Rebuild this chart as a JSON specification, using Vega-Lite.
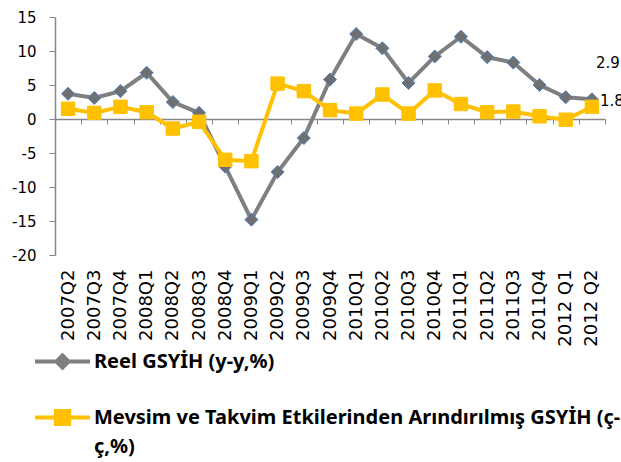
{
  "$schema": "https://vega.github.io/schema/vega-lite/v6.json",
  "width": 550,
  "height": 238,
  "autosize": "none",
  "padding": {"left": 55, "top": 17, "right": 16, "bottom": 207},
  "config": {"view": {"stroke": null}, "font": "DejaVu Sans", "style": {"guide-label": {"lineHeight": 29}}},
  "data": {"values": [
    {"q": "2007Q2", "series": "Reel GSYİH (y-y,%)", "value": 3.7},
    {"q": "2007Q3", "series": "Reel GSYİH (y-y,%)", "value": 3.1},
    {"q": "2007Q4", "series": "Reel GSYİH (y-y,%)", "value": 4.1},
    {"q": "2008Q1", "series": "Reel GSYİH (y-y,%)", "value": 6.8},
    {"q": "2008Q2", "series": "Reel GSYİH (y-y,%)", "value": 2.5},
    {"q": "2008Q3", "series": "Reel GSYİH (y-y,%)", "value": 0.9},
    {"q": "2008Q4", "series": "Reel GSYİH (y-y,%)", "value": -7.0},
    {"q": "2009Q1", "series": "Reel GSYİH (y-y,%)", "value": -14.8},
    {"q": "2009Q2", "series": "Reel GSYİH (y-y,%)", "value": -7.8},
    {"q": "2009Q3", "series": "Reel GSYİH (y-y,%)", "value": -2.8},
    {"q": "2009Q4", "series": "Reel GSYİH (y-y,%)", "value": 5.8},
    {"q": "2010Q1", "series": "Reel GSYİH (y-y,%)", "value": 12.5},
    {"q": "2010Q2", "series": "Reel GSYİH (y-y,%)", "value": 10.4},
    {"q": "2010Q3", "series": "Reel GSYİH (y-y,%)", "value": 5.3},
    {"q": "2010Q4", "series": "Reel GSYİH (y-y,%)", "value": 9.2},
    {"q": "2011Q1", "series": "Reel GSYİH (y-y,%)", "value": 12.1},
    {"q": "2011Q2", "series": "Reel GSYİH (y-y,%)", "value": 9.1},
    {"q": "2011Q3", "series": "Reel GSYİH (y-y,%)", "value": 8.3},
    {"q": "2011Q4", "series": "Reel GSYİH (y-y,%)", "value": 5.0},
    {"q": "2012 Q1", "series": "Reel GSYİH (y-y,%)", "value": 3.2},
    {"q": "2012 Q2", "series": "Reel GSYİH (y-y,%)", "value": 2.9},
    {"q": "2007Q2", "series": "Mevsim ve Takvim Etkilerinden Arındırılmış GSYİH (ç-ç,%)", "value": 1.5},
    {"q": "2007Q3", "series": "Mevsim ve Takvim Etkilerinden Arındırılmış GSYİH (ç-ç,%)", "value": 0.9},
    {"q": "2007Q4", "series": "Mevsim ve Takvim Etkilerinden Arındırılmış GSYİH (ç-ç,%)", "value": 1.8},
    {"q": "2008Q1", "series": "Mevsim ve Takvim Etkilerinden Arındırılmış GSYİH (ç-ç,%)", "value": 1.0},
    {"q": "2008Q2", "series": "Mevsim ve Takvim Etkilerinden Arındırılmış GSYİH (ç-ç,%)", "value": -1.4},
    {"q": "2008Q3", "series": "Mevsim ve Takvim Etkilerinden Arındırılmış GSYİH (ç-ç,%)", "value": -0.4},
    {"q": "2008Q4", "series": "Mevsim ve Takvim Etkilerinden Arındırılmış GSYİH (ç-ç,%)", "value": -6.0},
    {"q": "2009Q1", "series": "Mevsim ve Takvim Etkilerinden Arındırılmış GSYİH (ç-ç,%)", "value": -6.2},
    {"q": "2009Q2", "series": "Mevsim ve Takvim Etkilerinden Arındırılmış GSYİH (ç-ç,%)", "value": 5.2},
    {"q": "2009Q3", "series": "Mevsim ve Takvim Etkilerinden Arındırılmış GSYİH (ç-ç,%)", "value": 4.1},
    {"q": "2009Q4", "series": "Mevsim ve Takvim Etkilerinden Arındırılmış GSYİH (ç-ç,%)", "value": 1.3},
    {"q": "2010Q1", "series": "Mevsim ve Takvim Etkilerinden Arındırılmış GSYİH (ç-ç,%)", "value": 0.8},
    {"q": "2010Q2", "series": "Mevsim ve Takvim Etkilerinden Arındırılmış GSYİH (ç-ç,%)", "value": 3.6},
    {"q": "2010Q3", "series": "Mevsim ve Takvim Etkilerinden Arındırılmış GSYİH (ç-ç,%)", "value": 0.8},
    {"q": "2010Q4", "series": "Mevsim ve Takvim Etkilerinden Arındırılmış GSYİH (ç-ç,%)", "value": 4.2},
    {"q": "2011Q1", "series": "Mevsim ve Takvim Etkilerinden Arındırılmış GSYİH (ç-ç,%)", "value": 2.2},
    {"q": "2011Q2", "series": "Mevsim ve Takvim Etkilerinden Arındırılmış GSYİH (ç-ç,%)", "value": 1.0},
    {"q": "2011Q3", "series": "Mevsim ve Takvim Etkilerinden Arındırılmış GSYİH (ç-ç,%)", "value": 1.1},
    {"q": "2011Q4", "series": "Mevsim ve Takvim Etkilerinden Arındırılmış GSYİH (ç-ç,%)", "value": 0.4},
    {"q": "2012 Q1", "series": "Mevsim ve Takvim Etkilerinden Arındırılmış GSYİH (ç-ç,%)", "value": -0.1},
    {"q": "2012 Q2", "series": "Mevsim ve Takvim Etkilerinden Arındırılmış GSYİH (ç-ç,%)", "value": 1.8}
  ]},
  "encoding": {
    "x": {
      "field": "q", "type": "ordinal", "sort": null, "bandPosition": 0.5,
      "scale": {"type": "band", "paddingInner": 0, "paddingOuter": 0},
      "axis": {
        "title": null, "offset": -136, "tickBand": "extent", "tickSize": 5,
        "domainColor": "#868686", "tickColor": "#868686", "domainWidth": 1.5,
        "labelAngle": -90, "labelPadding": 145, "labelFontSize": 18, "labelColor": "#000000", "labelFont": "DejaVu Sans"
      }
    },
    "y": {
      "field": "value", "type": "quantitative",
      "scale": {"domain": [-20, 15], "nice": false, "zero": false},
      "axis": {
        "title": null, "grid": false, "values": [-20, -15, -10, -5, 0, 5, 10, 15],
        "labelExpr": "'' + datum.value",
        "tickSize": 6, "domainColor": "#868686", "tickColor": "#868686", "domainWidth": 1.5,
        "labelFontSize": 15, "labelColor": "#000000", "labelPadding": 13, "labelFont": "DejaVu Sans"
      }
    }
  },
  "layer": [
    {
      "mark": {"type": "line", "strokeWidth": 4},
      "encoding": {
        "color": {
          "field": "series", "type": "nominal",
          "scale": {"domain": ["Reel GSYİH (y-y,%)", "Mevsim ve Takvim Etkilerinden Arındırılmış GSYİH (ç-ç,%)"], "range": ["#7f7f7f", "#ffc000"]},
          "legend": {
            "orient": "none", "legendX": -22, "legendY": 315, "direction": "vertical", "title": null,
            "symbolSize": 3025, "symbolStrokeWidth": 4,
            "symbolType": {"expr": "datum.value == 'Reel GSYİH (y-y,%)' ? 'M-1,0H1M0,-0.22L0.22,0L0,0.22L-0.22,0Z' : 'M-1,0H1M-0.24,-0.24H0.24V0.24H-0.24Z'"},
            "symbolFillColor": {"expr": "datum.value == 'Reel GSYİH (y-y,%)' ? '#7f7f7f' : '#ffc000'"},
            "labelFont": "Noto Sans", "labelFontSize": 20, "labelFontWeight": "bold", "labelColor": "#000000", "labelLimit": 0,
            "rowPadding": 12, "labelOffset": 2,
            "labelExpr": "datum.label == 'Reel GSYİH (y-y,%)' ? datum.label : ['Mevsim ve Takvim Etkilerinden Arındırılmış GSYİH (ç-', 'ç,%)']"
          }
        }
      }
    },
    {
      "transform": [{"filter": "datum.series == 'Reel GSYİH (y-y,%)'"}],
      "mark": {"type": "point", "shape": "diamond", "filled": true, "fill": "#6f6f6f", "stroke": "#4f81bd", "strokeWidth": 1, "size": 170, "opacity": 1}
    },
    {
      "transform": [{"filter": "datum.series != 'Reel GSYİH (y-y,%)'"}],
      "mark": {"type": "point", "shape": "square", "filled": true, "fill": "#ffc000", "stroke": "#ffc000", "strokeWidth": 1, "size": 180, "opacity": 1}
    },
    {
      "transform": [{"filter": "datum.q == '2012 Q2' && datum.series == 'Reel GSYİH (y-y,%)'"}],
      "mark": {"type": "text", "align": "left", "dx": 4, "dy": -36, "fontSize": 15, "color": "#000000", "font": "DejaVu Sans"},
      "encoding": {"text": {"field": "value", "type": "quantitative", "format": ".1f"}}
    },
    {
      "transform": [{"filter": "datum.q == '2012 Q2' && datum.series != 'Reel GSYİH (y-y,%)'"}],
      "mark": {"type": "text", "align": "left", "dx": 8, "dy": -6, "fontSize": 15, "color": "#000000", "font": "DejaVu Sans"},
      "encoding": {"text": {"field": "value", "type": "quantitative", "format": ".1f"}}
    }
  ]
}
